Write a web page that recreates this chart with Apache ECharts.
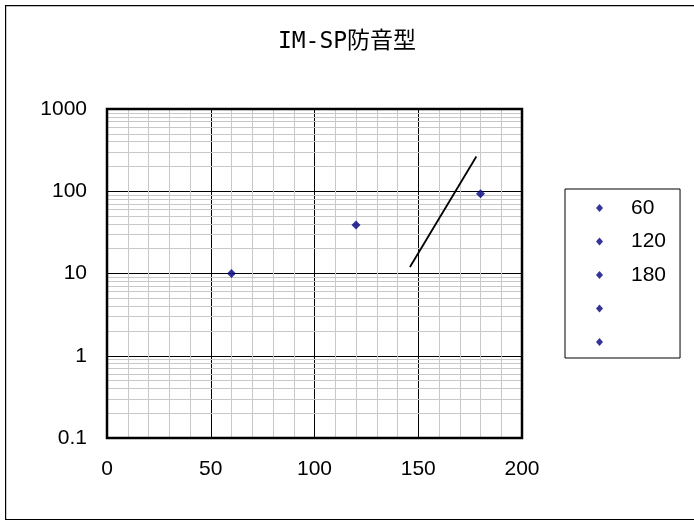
<!DOCTYPE html>
<html>
<head>
<meta charset="utf-8">
<script src="https://cdn.jsdelivr.net/npm/echarts@6/dist/echarts.min.js"></script>
<style>html,body{margin:0;padding:0;background:#fff}#c{width:694px;height:520px}</style>
</head>
<body>
<div id="c"></div>
<script>
const titleText = 'IM-SP防音型';
const seriesNames = ['60', '120', '180', ' ', '  '];
const seriesPoints = [[[60, 10]], [[120, 39]], [[180, 93]], [], []];
const lineSeg = [[146, 12], [178, 265]];
const xTicks = [0, 50, 100, 150, 200];
const yTicks = [0.1, 1, 10, 100, 1000];
const yMinorGrid = [0.2,0.3,0.4,0.5,0.6,0.7,0.8,0.9,2,3,4,5,6,7,8,9,20,30,40,50,60,70,80,90,200,300,400,500,600,700,800,900];

const chart = echarts.init(document.getElementById('c'));
const navy = '#000080';
const series = seriesNames.map((n, i) => ({
  name: n, type: 'scatter', data: seriesPoints[i],
  symbol: 'diamond', symbolSize: 9,
  itemStyle: { color: navy }, z: 10
}));
series.push({
  name: 'seg', type: 'line', data: lineSeg, symbol: 'none',
  lineStyle: { color: '#000', width: 1.8 }, z: 9
});
series.push({
  name: 'minor', type: 'line', data: [], silent: true, z: 1,
  markLine: {
    z: 1, silent: true, symbol: 'none', label: { show: false }, animation: false,
    lineStyle: { color: '#c8c8c8', width: 1, type: 'solid' },
    data: yMinorGrid.map(v => ({ yAxis: v }))
  }
});
const latin = 'Liberation Sans, Arial, sans-serif';
chart.setOption({
  animation: false,
  backgroundColor: '#fff',
  textStyle: { fontFamily: latin },
  graphic: [{
    type: 'rect', left: 5, top: 5, z: -10,
    shape: { x: 0, y: 0, width: 720, height: 514 },
    style: { fill: '#fff', stroke: '#000', lineWidth: 1.2 }
  }],
  title: {
    text: titleText, left: 'center', top: 31,
    textStyle: { fontFamily: '"DejaVu Sans Mono", "Noto Sans CJK JP", monospace', fontSize: 23, fontWeight: 'normal', color: '#000' },
    padding: [0, 0, 0, 6]
  },
  legend: {
    data: seriesNames, orient: 'vertical', left: 565, top: 189,
    padding: [7, 14, 4, 31],
    itemWidth: 7, itemHeight: 8, itemGap: 9.5,
    borderColor: '#000', borderWidth: 1, backgroundColor: '#fff',
    textStyle: { fontSize: 21, color: '#000', lineHeight: 24, padding: [0, 0, 0, 23], fontFamily: latin },
    selectedMode: false
  },
  grid: { left: 107, top: 109, right: 172, bottom: 82, show: true, borderColor: '#000', borderWidth: 2.5, backgroundColor: 'transparent', z: 3 },
  xAxis: {
    type: 'value', min: xTicks[0], max: xTicks[xTicks.length - 1], interval: 50,
    axisLine: { show: false }, axisTick: { show: false },
    axisLabel: { fontSize: 21, color: '#000', margin: 21 },
    splitLine: { show: true, lineStyle: { color: '#000', width: 1 } },
    minorTick: { show: false, splitNumber: 5 },
    minorSplitLine: { show: true, lineStyle: { color: '#c8c8c8', width: 1 } }
  },
  yAxis: {
    type: 'log', logBase: 10, min: yTicks[0], max: yTicks[yTicks.length - 1],
    axisLine: { show: false }, axisTick: { show: false },
    axisLabel: { fontSize: 21, color: '#000', margin: 20, formatter: v => String(+v.toPrecision(3)) },
    splitLine: { show: true, lineStyle: { color: '#000', width: 1 } }
  },
  series: series
});
</script>
</body>
</html>
